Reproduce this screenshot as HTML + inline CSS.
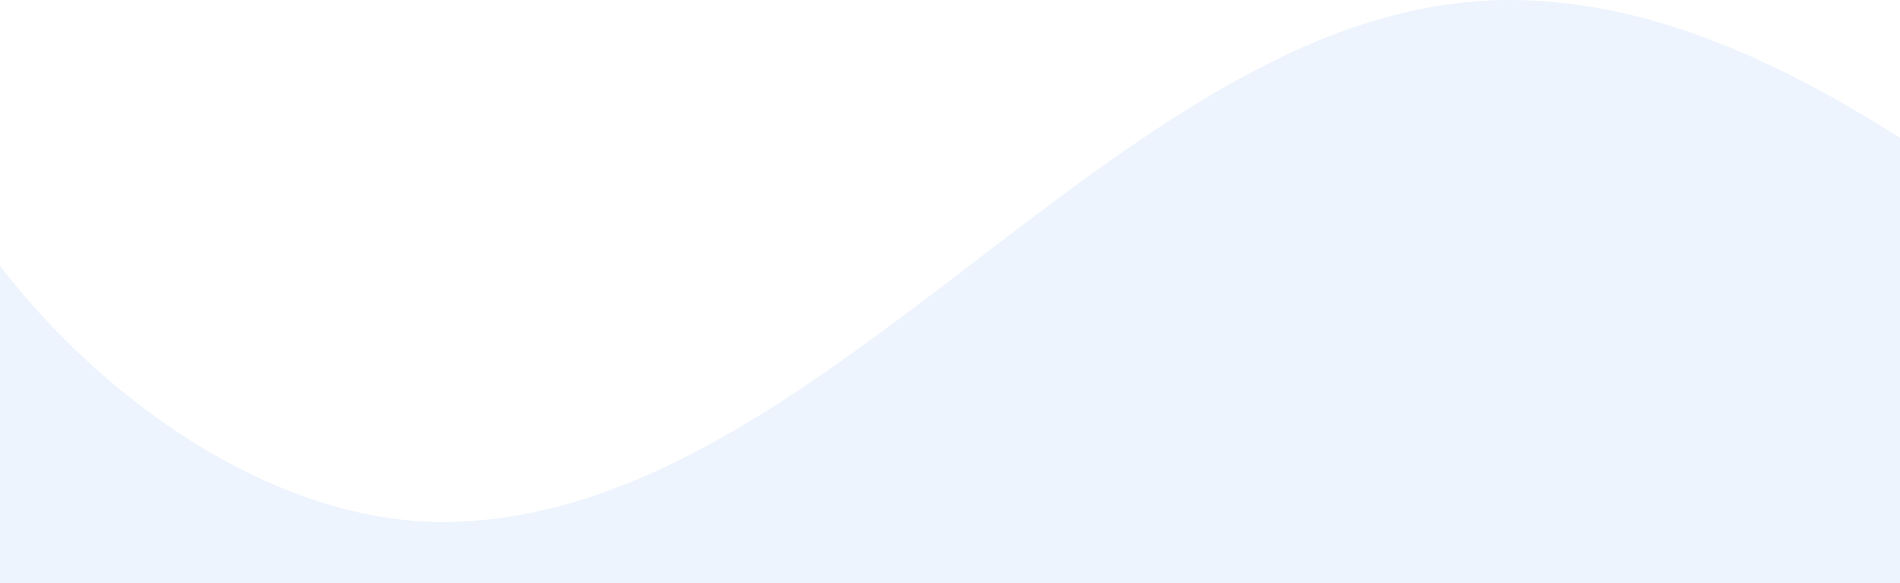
<!DOCTYPE html>
<html>
<head>
<meta charset="utf-8">
<style>
  html, body { margin: 0; padding: 0; background: #ffffff; }
  svg { display: block; }
</style>
</head>
<body>
<svg width="1900" height="583" viewBox="0 0 1900 583">
  <rect x="0" y="0" width="1900" height="583" fill="#ffffff"/>
  <path fill="#EDF4FD"
    d="M0,266 C120,420 290,522 442,522 C826,522 1125,0 1509,0 C1920,0 2239,522 2650,522 L2650,583 L0,583 Z"/>
</svg>
</body>
</html>
